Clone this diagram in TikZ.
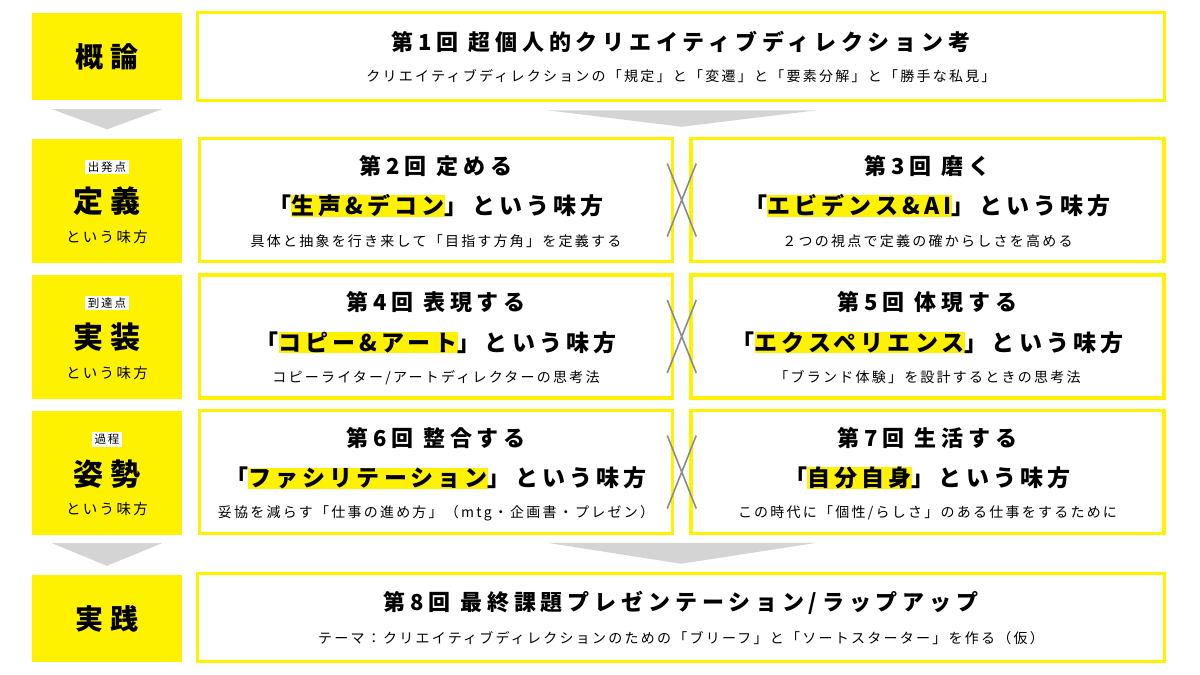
\documentclass[tikz,border=0pt]{standalone}
\usepackage{fontspec}
\setmainfont{Noto Sans CJK JP}
\newfontfamily\jpt[LetterSpace=22]{Noto Sans CJK JP}
\newfontfamily\jpm[LetterSpace=18]{Noto Sans CJK JP}
\newfontfamily\jps[LetterSpace=16]{Noto Sans CJK JP}
\newfontfamily\jpl[LetterSpace=25]{Noto Sans CJK JP}
\usetikzlibrary{calc}
\definecolor{ylw}{RGB}{255,242,0}
\definecolor{tri}{RGB}{212,212,212}
\definecolor{xg}{RGB}{138,138,138}
\newcommand\hlbox[1]{{\setlength{\fboxsep}{0pt}\colorbox{ylw}{#1}}}
\newcommand\wsp{\kern0.45em\relax}
\tikzset{
  mainbox/.style={draw=ylw, line width=3.5pt, fill=white, inner sep=0pt},
  leftbox/.style={fill=ylw, inner sep=0pt, minimum width=150pt},
  ttl/.style={font=\jpt\bfseries\fontsize{22}{26}\selectfont, inner sep=0pt},
  mid/.style={font=\jpm\bfseries\fontsize{23}{27}\selectfont, inner sep=0pt},
  sub/.style={font=\jps\fontsize{14}{17}\selectfont, inner sep=0pt},
  big/.style={font=\jpl\bfseries\fontsize{28}{32}\selectfont, inner sep=0pt},
  bigger/.style={font=\jpl\bfseries\fontsize{30}{34}\selectfont, inner sep=0pt},
  ofus/.style={font=\jps\fontsize{14.5}{17}\selectfont, inner sep=0pt},
  tag/.style={font=\jps\fontsize{11.5}{13}\selectfont, fill=white, inner xsep=2.5pt, inner ysep=2pt},
  tri/.style={fill=tri},
  xline/.style={draw=xg, line width=1.6pt}
}
\begin{document}
\begin{tikzpicture}[x=1pt,y=-1pt]
\useasboundingbox[fill=white] (0,0) rectangle (1200,675);
% left column
\node[leftbox, minimum height=87pt] (L1) at (107,56.5) {};
\node[leftbox, minimum height=124pt] (L2) at (107,200.5) {};
\node[leftbox, minimum height=124pt] (L3) at (107,336.5) {};
\node[leftbox, minimum height=124pt] (L4) at (107,473) {};
\node[leftbox, minimum height=87pt] (L5) at (107,618.5) {};
% main boxes
\node[mainbox, minimum width=967pt, minimum height=88pt] (B1) at (681,56.5) {};
\node[mainbox, minimum width=473pt, minimum height=123pt] (B2) at (436,200) {};
\node[mainbox, minimum width=473pt, minimum height=123pt] (B3) at (927.5,200) {};
\node[mainbox, minimum width=473pt, minimum height=123pt] (B4) at (436,336.5) {};
\node[mainbox, minimum width=473pt, minimum height=123pt] (B5) at (927.5,336.5) {};
\node[mainbox, minimum width=473pt, minimum height=123pt] (B6) at (436,472) {};
\node[mainbox, minimum width=473pt, minimum height=123pt] (B7) at (927.5,472) {};
\node[mainbox, minimum width=967pt, minimum height=88pt] (B8) at (681,617.5) {};
% arrows (triangles)
\fill[tri] ($(L1.south)+(-55,9)$) -- ($(L1.south)+(55,9)$) -- ($(L2.north)+(0,-9)$) -- cycle;
\fill[tri] ($(L4.south)+(-55,8)$) -- ($(L4.south)+(55,8)$) -- ($(L5.north)+(0,-9)$) -- cycle;
\coordinate (a1) at ($(B2.north east)!0.5!(B3.north west)$);
\fill[tri] ($(B1.south)+(-134,8)$) -- ($(B1.south)+(136,8)$) -- ($(a1)+(0,-10)$) -- cycle;
\fill[tri] ($(B8.north)+(-134,-29)$) -- ($(B8.north)+(136,-29)$) -- ($(B8.north)+(0,-8)$) -- cycle;
% X connectors
\foreach \l/\r in {B2/B3,B4/B5,B6/B7}{
  \coordinate (xc) at ($(\l.east)!0.5!(\r.west)$);
  \draw[xline] ($(xc)+(-14.5,-36.5)$) -- ($(xc)+(14.5,36.5)$);
  \draw[xline] ($(xc)+(14.5,-36.5)$) -- ($(xc)+(-14.5,36.5)$);
}
% left texts
\node[big] (l1) at (L1.center) {概論};
\node[tag] (g2) at ($(L2.center)+(0,-33.5)$) {出発点};
\node[bigger] (l2) at ($(L2.center)+(0,1)$) {定義};
\node[ofus] (o2) at ($(L2.center)+(0,36)$) {という味方};
\node[tag] (g3) at ($(L3.center)+(0,-33.5)$) {到達点};
\node[bigger] (l3) at ($(L3.center)+(0,1)$) {実装};
\node[ofus] (o3) at ($(L3.center)+(0,36)$) {という味方};
\node[tag] (g4) at ($(L4.center)+(0,-33.5)$) {過程};
\node[bigger] (l4) at ($(L4.center)+(0,1)$) {姿勢};
\node[ofus] (o4) at ($(L4.center)+(0,36)$) {という味方};
\node[big] (l5) at (L5.center) {実践};
% box 1
\node[ttl] (t1) at ($(B1.center)+(0,-14.5)$) {第1回\wsp 超個人的クリエイティブディレクション考};
\node[sub] (s1) at ($(B1.center)+(0,19.5)$) {クリエイティブディレクションの「規定」と「変遷」と「要素分解」と「勝手な私見」};
% box 2
\node[ttl] (t2) at ($(B2.center)+(0,-34)$) {第2回\wsp 定める};
\node[mid] (m2) at ($(B2.center)+(0,6)$) {「\hlbox{生声\&デコン}」という味方};
\node[sub] (s2) at ($(B2.center)+(0,41)$) {具体と抽象を行き来して「目指す方角」を定義する};
% box 3
\node[ttl] (t3) at ($(B3.center)+(0,-34)$) {第3回\wsp 磨く};
\node[mid] (m3) at ($(B3.center)+(0,6)$) {「\hlbox{エビデンス\&AI}」という味方};
\node[sub] (s3) at ($(B3.center)+(0,41)$) {２つの視点で定義の確からしさを高める};
% box 4
\node[ttl] (t4) at ($(B4.center)+(0,-34)$) {第4回\wsp 表現する};
\node[mid] (m4) at ($(B4.center)+(0,6)$) {「\hlbox{コピー\&アート}」という味方};
\node[sub] (s4) at ($(B4.center)+(0,41)$) {コピーライター/アートディレクターの思考法};
% box 5
\node[ttl] (t5) at ($(B5.center)+(0,-34)$) {第5回\wsp 体現する};
\node[mid] (m5) at ($(B5.center)+(0,6)$) {「\hlbox{エクスペリエンス}」という味方};
\node[sub] (s5) at ($(B5.center)+(0,41)$) {「ブランド体験」を設計するときの思考法};
% box 6
\node[ttl] (t6) at ($(B6.center)+(0,-34)$) {第6回\wsp 整合する};
\node[mid] (m6) at ($(B6.center)+(0,6)$) {「\hlbox{ファシリテーション}」という味方};
\node[sub] (s6) at ($(B6.center)+(0,41)$) {妥協を減らす「仕事の進め方」（mtg・企画書・プレゼン）};
% box 7
\node[ttl] (t7) at ($(B7.center)+(0,-34)$) {第7回\wsp 生活する};
\node[mid] (m7) at ($(B7.center)+(0,6)$) {「\hlbox{自分自身}」という味方};
\node[sub] (s7) at ($(B7.center)+(0,41)$) {この時代に「個性/らしさ」のある仕事をするために};
% box 8
\node[ttl] (t8) at ($(B8.center)+(0,-14.5)$) {第8回\wsp 最終課題プレゼンテーション/ラップアップ};
\node[sub] (s8) at ($(B8.center)+(0,20.5)$) {テーマ：クリエイティブディレクションのための「ブリーフ」と「ソートスターター」を作る（仮）};
\end{tikzpicture}
\end{document}
